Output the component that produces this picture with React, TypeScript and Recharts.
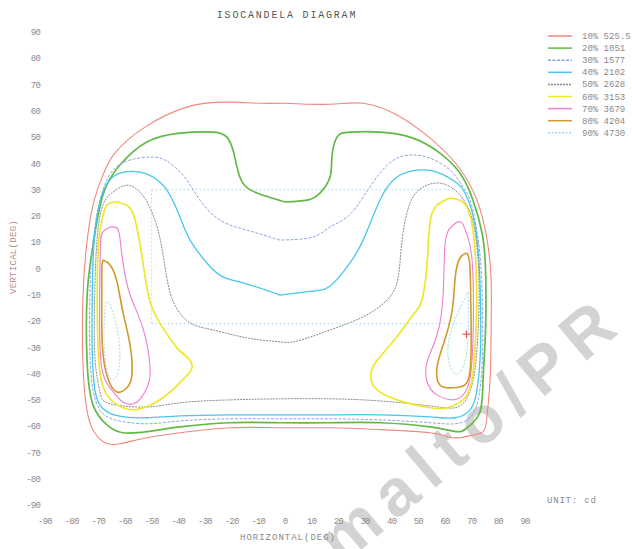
import { ComposedChart, Line, XAxis, YAxis, ReferenceLine, ReferenceDot } from "recharts";

type Pt = [number, number];

const xTicks = [-90, -80, -70, -60, -50, -40, -30, -20, -10, 0, 10, 20, 30, 40, 50, 60, 70, 80, 90];
const yTicks = [-90, -80, -70, -60, -50, -40, -30, -20, -10, 0, 10, 20, 30, 40, 50, 60, 70, 80, 90];

const levelLabels = [
  "10% 525.5",
  "20% 1051",
  "30% 1577",
  "40% 2102",
  "50% 2628",
  "60% 3153",
  "70% 3679",
  "80% 4204",
  "90% 4730",
];

// isocandela loops, [horizontal deg, vertical deg]
const c10: Pt[] = [
  [0, 62.9], [16.9, 62.5], [29.3, 62.9], [42, 58.4], [54.4, 49.6], [64.5, 39.4], [72, 26], [75.8, 10.8],
  [77.3, -4.4], [77.3, -23.4], [76.9, -42.4], [75.8, -55.7], [74.3, -62.1], [69.4, -63.6], [65.6, -64.4],
  [60.8, -64], [54.4, -62.5], [35.6, -61.3], [16.9, -60.6], [-1.9, -60.6], [-20.6, -60.6], [-39.4, -62.5],
  [-51.8, -64.4], [-61.9, -66.7], [-67.5, -66.3], [-71.6, -62.1], [-74.3, -53.8], [-75.8, -35.5],
  [-75.8, -12], [-74.6, 7], [-72, 24.1], [-68.3, 35.5], [-63.8, 43.9], [-52.5, 53.8], [-35.6, 61.8],
  [-20.6, 63.3], [-9.4, 62.9],
];
const c20: Pt[] = [
  [0, 25.3], [8.3, 26], [13.1, 28.7], [16.9, 34.8], [17.6, 42.4], [19.5, 50], [24.4, 51.9], [35.6, 51.9],
  [48, 49.6], [58.1, 43.9], [65.6, 36.3], [70.5, 26], [73.9, 13.5], [75.2, -0.6], [75.2, -23.4],
  [74.3, -41.6], [73.1, -54.6], [68.3, -60.6], [64.5, -62.1], [54.4, -60.3], [35.6, -58.7], [16.9, -58.7],
  [-1.9, -58.7], [-20.6, -58.7], [-39.4, -60.3], [-51.8, -62.1], [-60.8, -62.5], [-66.8, -59.5],
  [-72, -51.9], [-74.2, -35.5], [-74.2, -10.1], [-72, 8.9], [-68.3, 27.9], [-61.9, 39.4], [-51.8, 48.1],
  [-39.4, 51.5], [-27, 51.9], [-21.8, 50], [-19.5, 45.1], [-18, 38.6], [-15.8, 32.5], [-10.5, 28.7],
];
const c30: Pt[] = [
  [-1.9, 10.8], [-14.3, 14.6], [-24.4, 18.4], [-31.9, 26], [-36.8, 33.6], [-43.1, 40.1], [-49.5, 42.4],
  [-58.1, 41.3], [-64.5, 37.4], [-68.3, 29.8], [-70.9, 18.4], [-72.6, 3.2], [-73.2, -12], [-73.2, -31],
  [-72, -46.2], [-69.4, -53.8], [-63.8, -57.6], [-51.8, -59.1], [-39.4, -58], [-20.6, -57.2], [-1.9, -57.2],
  [16.9, -57.2], [35.6, -57.6], [54.4, -58.7], [63.8, -59.1], [69.4, -56.8], [72.4, -50], [74, -34.8],
  [74, -12], [73.3, 3.2], [71.6, 16.5], [69.4, 26], [66.8, 31], [61.9, 37.4], [54.4, 42], [48, 43.2],
  [42, 42], [35.6, 36.3], [29.3, 27.2], [23.3, 19.6], [16.9, 15.8], [10.5, 12],
];
const c40: Pt[] = [
  [-1.9, -10.1], [-14.3, -5.9], [-23.3, -3.2], [-29.3, 2.1], [-35.6, 10.8], [-39.4, 19.6], [-44.3, 29.8],
  [-49.5, 34.8], [-54.4, 36.7], [-61.9, 36.3], [-67.1, 31.7], [-70.1, 22.2], [-71.8, 7], [-72.3, -12],
  [-72.3, -31], [-71.3, -46.2], [-68.6, -53], [-62.6, -56.1], [-51.8, -56.8], [-39.4, -56.1],
  [-20.6, -55.7], [-1.9, -55.7], [16.9, -55.7], [35.6, -55.7], [54.4, -56.5], [63.8, -56.8], [69.4, -53.8],
  [72, -46.2], [73.3, -31], [73.3, -12], [72.6, 5.1], [70.5, 20.3], [67.5, 28.7], [64.5, 32.5], [57, 36.7],
  [49.5, 37.4], [42, 34.8], [35.6, 26], [29.3, 10.8], [23.3, 0.6], [16.9, -6.7], [10.5, -8.6],
];
const c50: Pt[] = [
  [-1.9, -27.9], [-14.3, -26.4], [-27, -23.4], [-35.6, -20.7], [-41.3, -13.9], [-44.3, -3.6], [-46.9, 11.6],
  [-50.6, 23], [-54.4, 29.1], [-59.3, 31.7], [-64.5, 29.1], [-68.3, 24.1], [-70.5, 10.8], [-71.4, -12],
  [-71.2, -34.8], [-69.4, -47], [-65.6, -51.5], [-51.8, -52.7], [-39.4, -51.1], [-20.6, -50], [-1.9, -49.6],
  [16.9, -49.6], [35.6, -50.4], [54.4, -52.3], [63.8, -53], [68.3, -49.2], [71.2, -38.6], [72.6, -19.6],
  [72.6, -0.6], [70.8, 16.5], [67.5, 25.3], [63.8, 29.8], [58.1, 32.5], [51.8, 31], [46.9, 24.9],
  [43.9, 10.8], [42.4, -3.6], [38.3, -12], [29.3, -18.4], [16.9, -23.4], [4.5, -27.6],
];
const c60Left: Pt[] = [
  [-63, 25.3], [-66.8, 24.1], [-68.8, 17.7], [-70, 8.9], [-70.4, -10.1], [-69.8, -35.5], [-66.8, -48.1],
  [-60.8, -53], [-54.4, -53.4], [-45.8, -49.2], [-38.3, -42.4], [-34.9, -37.8], [-36.4, -34], [-40.5, -30.2],
  [-45.8, -22.6], [-50.6, -12.7], [-53.3, 2.5], [-55.5, 15.4], [-58.1, 23],
];
const c60Right: Pt[] = [
  [61.9, 26.8], [57, 24.1], [54.4, 17.7], [53.3, 2.5], [51.4, -12], [48, -17.7], [42, -26], [35.6, -33.6],
  [32.3, -39.4], [33.8, -45.4], [42, -50], [54.4, -53], [60.8, -53], [66.8, -50], [70.1, -42.4],
  [71.6, -23.4], [71.6, 1.3], [69.4, 20.3], [65.6, 26],
];
const c70Left: Pt[] = [
  [-65.6, 15.8], [-68.3, 13.9], [-69.2, 8.9], [-69.5, -10.1], [-69, -35.5], [-65.6, -45.4], [-60.8, -50.8],
  [-55.5, -50.8], [-51.8, -45.4], [-50.6, -37.8], [-53.3, -22.6], [-58.1, -10.1], [-60.8, 2.5],
  [-61.9, 11.6], [-63, 15.4],
];
const c70Right: Pt[] = [
  [64.5, 17.7], [61.9, 15.4], [60, 8.9], [59.3, -10.1], [57, -25.3], [53.3, -35.5], [53.3, -43.2],
  [57, -48.1], [63, -50], [66.8, -48.1], [69.4, -41.6], [70.6, -22.6], [70.2, 2.5], [68.3, 12.7], [66.4, 17.3],
];
const c80Left: Pt[] = [
  [-68.3, 3.2], [-68.7, 0.2], [-68.7, -10.1], [-68.5, -29.1], [-66.5, -41.6], [-63, -47], [-59.3, -45.4],
  [-57.4, -40.5], [-58.1, -29.1], [-60.8, -16.5], [-63, -5.1], [-65.6, 1.3],
];
const c80Right: Pt[] = [
  [68.3, 5.9], [65.6, 4], [63.8, -3.6], [62.6, -16.5], [59.3, -29.1], [57, -37.8], [58.1, -44.3],
  [63, -45.4], [67.5, -44.3], [69.5, -37.8], [69.8, -22.6], [69.6, -7.4], [69.2, 2.5],
];
const c90Left: Pt[] = [
  [-67.2, -12.7], [-67.8, -20.3], [-67.6, -32.9], [-65.6, -41.6], [-63, -40.5], [-61.9, -32.9],
  [-63, -22.6], [-65.6, -13.9],
];
const c90Right: Pt[] = [
  [68.6, -8.9], [66.8, -12.7], [62.6, -22.6], [61.1, -32.9], [63, -39.4], [65.6, -39.4], [67.8, -34],
  [68.8, -22.6], [68.8, -12.7],
];

const peak: Pt = [68, -25];
// faint dotted reference box
const boxSegments: [Pt, Pt][] = [
  [[-50, 30], [64, 30]],
  [[-50, 30], [-50, -21]],
  [[-50, -21], [66, -21]],
];

const LEVELS = [
  { loops: [c10], color: "#f0897d", width: 1.1, dash: undefined },
  { loops: [c20], color: "#62b946", width: 1.7, dash: undefined },
  { loops: [c30], color: "#8ea4e6", width: 1, dash: "3 1.5" },
  { loops: [c40], color: "#45c8ea", width: 1.3, dash: undefined },
  { loops: [c50], color: "#8a8a8a", width: 1, dash: "2 1" },
  { loops: [c60Left, c60Right], color: "#f0e62a", width: 1.7, dash: undefined },
  { loops: [c70Left, c70Right], color: "#ef7dd3", width: 1.1, dash: undefined },
  { loops: [c80Left, c80Right], color: "#d09a2c", width: 1.6, dash: undefined },
  { loops: [c90Left, c90Right], color: "#9edcef", width: 1, dash: "2 1.5" },
];

const MONO = "'Liberation Mono', 'DejaVu Sans Mono', monospace";
const GREY = "#8a8a8a";

const closed = (loop: Pt[]) => [...loop, loop[0]].map(([x, y]) => ({ x, y }));

const Plus = (props: any) => {
  const { cx, cy } = props;
  return (
    <g stroke="#e0403a" strokeWidth={1}>
      <line x1={cx - 4} y1={cy} x2={cx + 4} y2={cy} />
      <line x1={cx} y1={cy - 4} x2={cx} y2={cy + 4} />
    </g>
  );
};

export default function App() {
  return (
    <div style={{ position: "absolute", left: 0, top: 0, width: 632, height: 549, background: "#fff" }}>
      <svg width={632} height={549} style={{ position: "absolute", left: 0, top: 0 }}>
        <text
          x={342}
          y={566}
          transform="rotate(-40 342 566)"
          fontFamily="'Liberation Sans', Arial, sans-serif"
          fontWeight="bold"
          fontSize={66}
          letterSpacing={11}
          fill="#d3d3d3"
        >
          malto/PR
        </text>
        <text x={287} y={18} textAnchor="middle" fontFamily={MONO} fontSize={10} letterSpacing={1.8} fill="#555">
          ISOCANDELA DIAGRAM
        </text>
        {levelLabels.map((lab, i) => (
          <g key={lab}>
            <line
              x1={548}
              x2={572}
              y1={36 + i * 12.1}
              y2={36 + i * 12.1}
              stroke={LEVELS[i].color}
              strokeWidth={1.5}
              strokeDasharray={LEVELS[i].dash}
            />
            <text x={582} y={39 + i * 12.1} fontFamily={MONO} fontSize={9} fill={GREY}>
              {lab}
            </text>
          </g>
        ))}
        <text x={547} y={503} fontFamily={MONO} fontSize={9} letterSpacing={0.8} fill={GREY}>
          UNIT: cd
        </text>
        <text x={288} y={540} textAnchor="middle" fontFamily={MONO} fontSize={9} letterSpacing={1} fill={GREY}>
          HORIZONTAL(DEG)
        </text>
        <text
          x={16}
          y={257}
          textAnchor="middle"
          transform="rotate(-90 16 257)"
          fontFamily={MONO}
          fontSize={9}
          letterSpacing={0.3}
          fill="#c08a8a"
        >
          VERTICAL(DEG)
        </text>
      </svg>
      <div style={{ position: "absolute", left: 0, top: 0 }}>
        <ComposedChart width={632} height={549} margin={{ top: 32, right: 107, bottom: 14, left: 5 }}>
          <XAxis
            type="number"
            dataKey="x"
            domain={[-90, 90]}
            ticks={xTicks}
            interval={0}
            axisLine={false}
            tickLine={false}
            tickSize={0}
            tickMargin={13}
            height={30}
            allowDataOverflow
            tick={{ fill: GREY, fontSize: 9, fontFamily: MONO, letterSpacing: -0.8 }}
          />
          <YAxis
            type="number"
            dataKey="y"
            domain={[-90, 90]}
            ticks={yTicks}
            interval={0}
            axisLine={false}
            tickLine={false}
            tickSize={0}
            tickMargin={5}
            width={40}
            allowDataOverflow
            tick={{ fill: GREY, fontSize: 9, fontFamily: MONO, letterSpacing: -0.8 }}
          />
          {boxSegments.map((seg, i) => (
            <ReferenceLine
              key={"box" + i}
              segment={seg.map(([x, y]) => ({ x, y }))}
              stroke="#a9d6ee"
              strokeDasharray="1.5 2.5"
              strokeWidth={1}
            />
          ))}
          {LEVELS.flatMap((lv, i) =>
            lv.loops.map((loop, j) => (
              <Line
                key={`lv${i}-${j}`}
                data={closed(loop)}
                dataKey="y"
                type="natural"
                stroke={lv.color}
                strokeWidth={lv.width}
                strokeDasharray={lv.dash}
                dot={false}
                activeDot={false}
                isAnimationActive={false}
              />
            ))
          )}
          <ReferenceDot x={peak[0]} y={peak[1]} r={4} shape={Plus} />
        </ComposedChart>
      </div>
    </div>
  );
}
